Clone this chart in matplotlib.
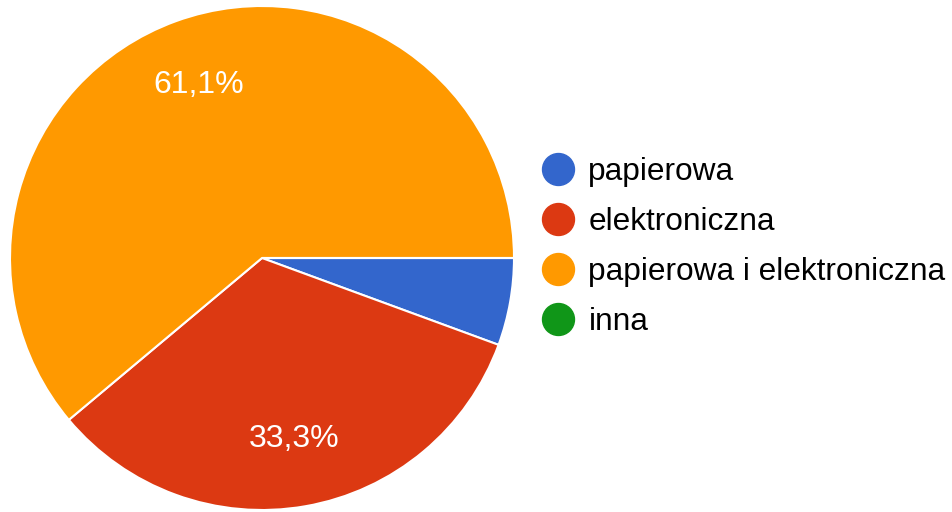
import matplotlib
matplotlib.use("Agg")
import matplotlib.pyplot as plt
from matplotlib.lines import Line2D

categories = ["papierowa", "elektroniczna", "papierowa i elektroniczna", "inna"]
values = [5.6, 33.3, 61.1, 0.0]
colors = ["#3366cc", "#dc3912", "#ff9900", "#109618"]

plt.rcParams['font.family'] = ['Liberation Sans', 'DejaVu Sans']

W, H = 953, 512
fig = plt.figure(figsize=(W / 100, H / 100), dpi=100)
cx, cy, r = 262, 258, 252
ax = fig.add_axes([(cx - r) / W, (H - cy - r) / H, 2 * r / W, 2 * r / H])

def fmt(p):
    return ("%.1f%%" % p).replace(".", ",") if p > 10 else ""

wedges, texts, autotexts = ax.pie(
    values, colors=colors, startangle=0, counterclock=False,
    autopct=fmt, pctdistance=0.73,
    wedgeprops=dict(edgecolor="white", linewidth=1.5),
    textprops=dict(color="white", fontsize=23))
ax.set_aspect("equal")
ax.set_xlim(-1, 1)
ax.set_ylim(-1, 1)

handles = [Line2D([0], [0], marker="o", linestyle="", markersize=23,
                  markerfacecolor=c, markeredgecolor=c) for c in colors]
fig.legend(handles, categories, loc="center left",
           bbox_to_anchor=(540 / W, (H - 247) / H), frameon=False,
           fontsize=22.8, labelspacing=0.63, handletextpad=0.38,
           handlelength=1.15, borderaxespad=0, borderpad=0)

fig.savefig("out.png", dpi=100)
